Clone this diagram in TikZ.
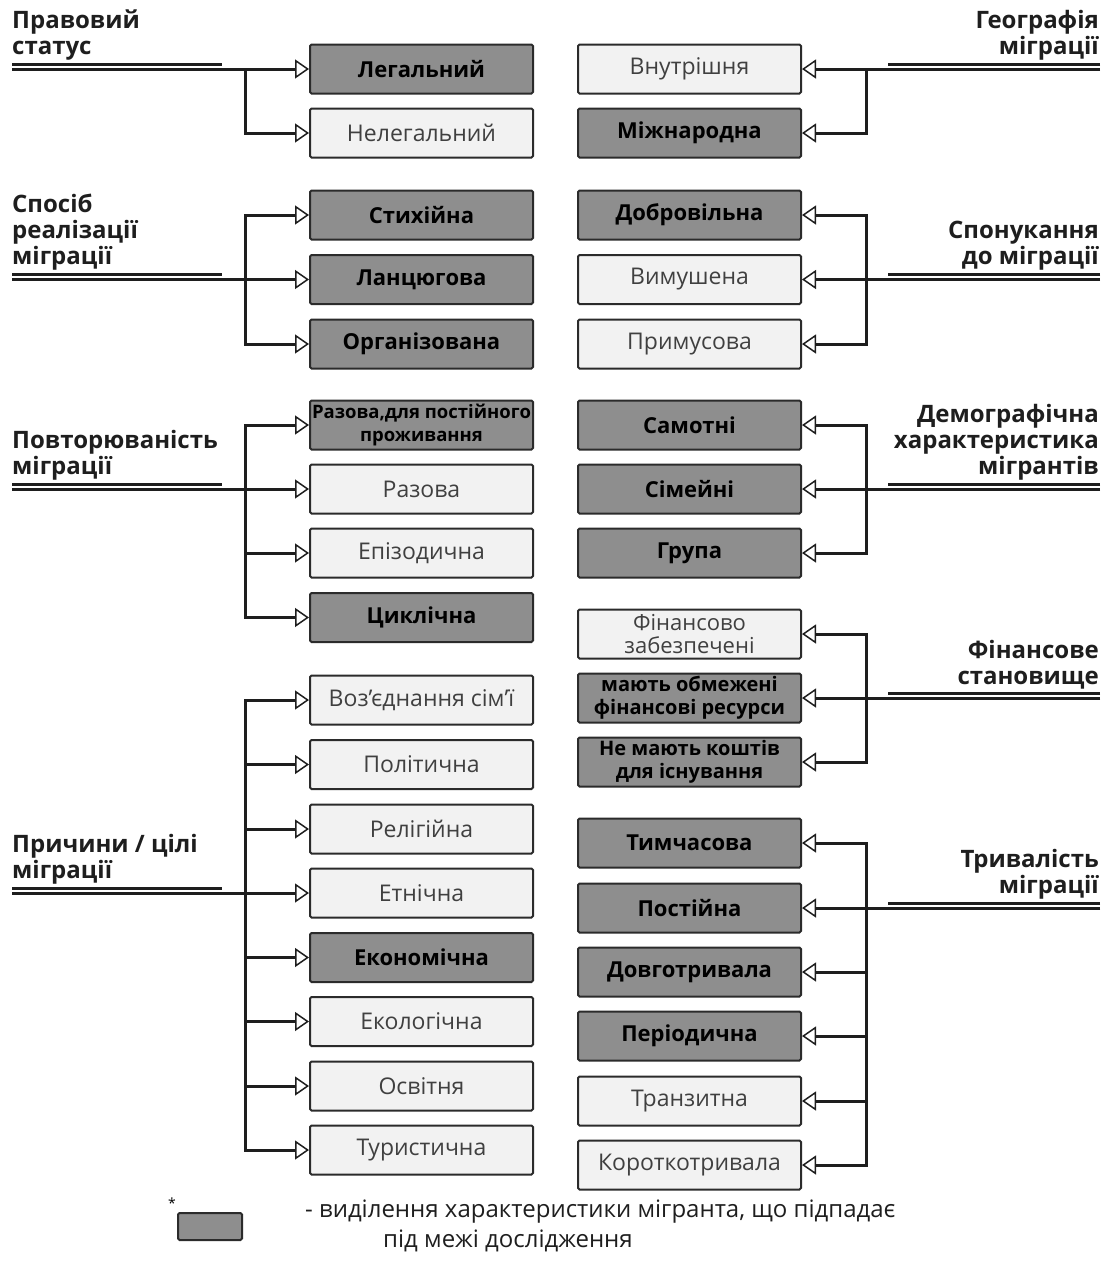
\documentclass[tikz,border=0pt]{standalone}
\usepackage{fontspec}
\setmainfont{Open Sans}[BoldFont={Open Sans Bold}]
\usetikzlibrary{arrows.meta}
\definecolor{dfill}{HTML}{8E8E8E}
\definecolor{lfill}{HTML}{F2F2F2}
\definecolor{bord}{HTML}{2B2B2B}
\definecolor{ltext}{HTML}{404040}
\definecolor{linec}{HTML}{1E1E1E}
\begin{document}
\begin{tikzpicture}[x=1pt,y=-1pt,
  box/.style={draw=bord, line width=2pt, minimum width=223pt, minimum height=49pt, inner sep=0pt, rounded corners=1.5pt, align=center},
  dbox/.style={box, fill=dfill, font=\fontsize{22}{24}\bfseries\selectfont, text=black},
  lbox/.style={box, fill=lfill, font=\fontsize{23}{24}\selectfont, text=ltext},
  dtwo/.style={dbox, font=\fontsize{18.5}{23}\bfseries\selectfont},
  dtwob/.style={dbox, font=\fontsize{20}{23}\bfseries\selectfont},
  ltwo/.style={lbox, font=\fontsize{22}{23}\selectfont},
  catl/.style={font=\fontsize{24}{26}\bfseries\selectfont, text=linec, inner sep=0pt, align=left, anchor=south west},
  catr/.style={font=\fontsize{24}{26}\bfseries\selectfont, text=linec, inner sep=0pt, align=right, anchor=south east},
  conn/.style={draw=linec, line width=3pt, -{Triangle[length=14pt,width=19pt,fill=white,line width=1.5pt]}},
  rule/.style={draw=linec, line width=3pt},
]
\useasboundingbox (0,0) rectangle (1105,1272);

% ---------- left boxes ----------
\node[dbox] (l1) at (421.5,69) {Легальний};
\node[lbox] (l2) at (421.5,133) {Нелегальний};
\node[dbox] (l3) at (421.5,215) {Стихійна};
\node[dbox] (l4) at (421.5,279.5) {Ланцюгова};
\node[dbox] (l5) at (421.5,344) {Організована};
\node[dtwo] (l6) at (421.5,425) {Разова,для постійного\\проживання};
\node[lbox] (l7) at (421.5,489) {Разова};
\node[lbox] (l8) at (421.5,553) {Епізодична};
\node[dbox] (l9) at (421.5,617.5) {Циклічна};
\node[lbox] (l10) at (421.5,700) {Воз'єднання сім'ї};
\node[lbox] (l11) at (421.5,764.5) {Політична};
\node[lbox] (l12) at (421.5,829) {Релігійна};
\node[lbox] (l13) at (421.5,893) {Етнічна};
\node[dbox] (l14) at (421.5,957.5) {Економічна};
\node[lbox] (l15) at (421.5,1021.5) {Екологічна};
\node[lbox] (l16) at (421.5,1086) {Освітня};
\node[lbox] (l17) at (421.5,1150) {Туристична};

% ---------- right boxes ----------
\node[lbox] (r1) at (689.5,69) {Внутрішня};
\node[dbox] (r2) at (689.5,133) {Міжнародна};
\node[dbox] (r3) at (689.5,215) {Добровільна};
\node[lbox] (r4) at (689.5,279.5) {Вимушена};
\node[lbox] (r5) at (689.5,344) {Примусова};
\node[dbox] (r6) at (689.5,425) {Самотні};
\node[dbox] (r7) at (689.5,489) {Сімейні};
\node[dbox] (r8) at (689.5,553) {Група};
\node[ltwo] (r9) at (689.5,634) {Фінансово\\забезпечені};
\node[dtwob] (r10) at (689.5,698) {мають обмежені\\фінансові ресурси};
\node[dtwob] (r11) at (689.5,762) {Не мають коштів\\для існування};
\node[dbox] (r12) at (689.5,843) {Тимчасова};
\node[dbox] (r13) at (689.5,908) {Постійна};
\node[dbox] (r14) at (689.5,972) {Довготривала};
\node[dbox] (r15) at (689.5,1036) {Періодична};
\node[lbox] (r16) at (689.5,1101) {Транзитна};
\node[lbox] (r17) at (689.5,1165) {Короткотривала};

% ---------- category titles ----------
\node[catl] (tl1) at (12,60) {Правовий\\статус};
\node[catl] (tl2) at (12,270.5) {Спосіб\\реалізації\\міграції};
\node[catl] (tl3) at (12,480) {Повторюваність\\міграції};
\node[catl] (tl4) at (12,884) {Причини / цілі\\міграції};
\node[catr] (tr1) at (1099,60) {Географія\\міграції};
\node[catr] (tr2) at (1099,270.5) {Спонукання\\до міграції};
\node[catr] (tr3) at (1099,480) {Демографічна\\характеристика\\мігрантів};
\node[catr] (tr4) at (1099,689) {Фінансове\\становище};
\node[catr] (tr5) at (1099,899) {Тривалість\\міграції};

% ---------- left connectors ----------
\coordinate (a1) at (12,69);   \coordinate (a1u) at (12,64);   \coordinate (a1e) at (222,64);
\coordinate (a2) at (12,279.5);\coordinate (a2u) at (12,274.5);\coordinate (a2e) at (222,274.5);
\coordinate (a3) at (12,489);  \coordinate (a3u) at (12,484);  \coordinate (a3e) at (222,484);
\coordinate (a4) at (12,893);  \coordinate (a4u) at (12,888);  \coordinate (a4e) at (222,888);
\coordinate (ja1) at (245,69);
\coordinate (ja2) at (245,279.5);
\coordinate (ja3) at (245,489);
\coordinate (ja4) at (245,893);

\draw[rule] (a1u) -- (a1e);
\draw[rule] (a2u) -- (a2e);
\draw[rule] (a3u) -- (a3e);
\draw[rule] (a4u) -- (a4e);

\draw[conn] (a1) -- (l1.west);
\draw[conn] (ja1) |- (l2.west);

\draw[conn] (a2) -- (l4.west);
\draw[conn] (ja2) |- (l3.west);
\draw[conn] (ja2) |- (l5.west);

\draw[conn] (a3) -- (l7.west);
\draw[conn] (ja3) |- (l6.west);
\draw[conn] (ja3) |- (l8.west);
\draw[conn] (ja3) |- (l9.west);

\draw[conn] (a4) -- (l13.west);
\draw[conn] (ja4) |- (l10.west);
\draw[conn] (ja4) |- (l11.west);
\draw[conn] (ja4) |- (l12.west);
\draw[conn] (ja4) |- (l14.west);
\draw[conn] (ja4) |- (l15.west);
\draw[conn] (ja4) |- (l16.west);
\draw[conn] (ja4) |- (l17.west);

% ---------- right connectors ----------
\coordinate (b1) at (1100,69);   \coordinate (b1u) at (1100,64);   \coordinate (b1e) at (888,64);
\coordinate (b2) at (1100,279.5);\coordinate (b2u) at (1100,274.5);\coordinate (b2e) at (888,274.5);
\coordinate (b3) at (1100,489);  \coordinate (b3u) at (1100,484);  \coordinate (b3e) at (888,484);
\coordinate (b4) at (1100,698);  \coordinate (b4u) at (1100,693);  \coordinate (b4e) at (888,693);
\coordinate (b5) at (1100,908);  \coordinate (b5u) at (1100,903);  \coordinate (b5e) at (888,903);
\coordinate (jb1) at (866,69);
\coordinate (jb2) at (866,279.5);
\coordinate (jb3) at (866,489);
\coordinate (jb4) at (866,698);
\coordinate (jb5) at (866,908);

\draw[rule] (b1u) -- (b1e);
\draw[rule] (b2u) -- (b2e);
\draw[rule] (b3u) -- (b3e);
\draw[rule] (b4u) -- (b4e);
\draw[rule] (b5u) -- (b5e);

\draw[conn] (b1) -- (r1.east);
\draw[conn] (jb1) |- (r2.east);

\draw[conn] (b2) -- (r4.east);
\draw[conn] (jb2) |- (r3.east);
\draw[conn] (jb2) |- (r5.east);

\draw[conn] (b3) -- (r7.east);
\draw[conn] (jb3) |- (r6.east);
\draw[conn] (jb3) |- (r8.east);

\draw[conn] (b4) -- (r10.east);
\draw[conn] (jb4) |- (r9.east);
\draw[conn] (jb4) |- (r11.east);

\draw[conn] (b5) -- (r13.east);
\draw[conn] (jb5) |- (r12.east);
\draw[conn] (jb5) |- (r14.east);
\draw[conn] (jb5) |- (r15.east);
\draw[conn] (jb5) |- (r16.east);
\draw[conn] (jb5) |- (r17.east);

% ---------- legend ----------
\node[box, fill=dfill, minimum width=64pt, minimum height=27pt] (leg) at (210,1226.5) {};
\node[font=\fontsize{14}{14}\selectfont, inner sep=0pt] (star) at (172,1203) {*};
\node[font=\fontsize{24}{30}\selectfont, text=linec, align=left, inner sep=0pt, anchor=north west] (legt) at (305,1200)
  {- виділення характеристики мігранта, що підпадає\\\hspace*{78pt}під межі дослідження};
\end{tikzpicture}
\end{document}
